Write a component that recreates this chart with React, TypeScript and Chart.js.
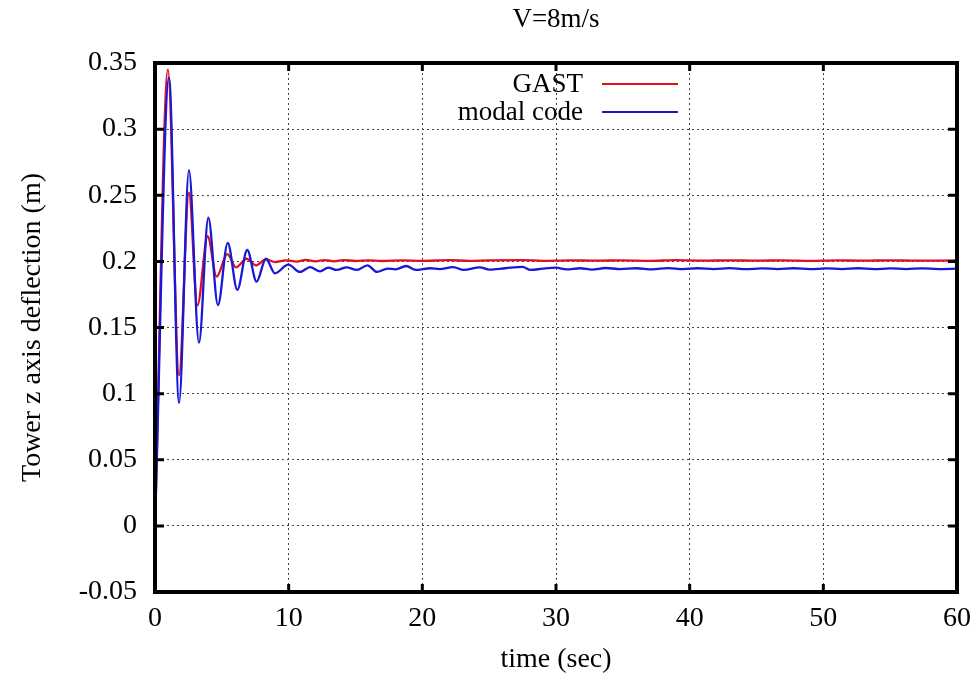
import React, { useEffect, useRef } from "react";
import { Chart, registerables } from "chart.js";

Chart.register(...registerables);

const chartTitle = "V=8m/s";
const xTitle = "time (sec)";
const yTitle = "Tower z axis deflection (m)";
const xTicks = [0, 10, 20, 30, 40, 50, 60];
const yTicks = [-0.05, 0, 0.05, 0.1, 0.15, 0.2, 0.25, 0.3, 0.35];

const gastLabel = "GAST";
const gastTime = [0, 0.97, 1.8, 2.54, 3.17, 3.94, 4.61, 5.41, 6.06, 6.86, 7.55, 8.3, 9.0, 9.8, 10.6, 11.3, 12.0, 12.7, 13.4, 14.1, 15.0, 16.0, 17.0, 18.5, 20, 22, 23.5, 25, 27.5, 29, 31, 33, 35, 37, 39, 41, 43, 45, 47, 49, 51, 53, 55, 57, 60];
const gastValue = [0, 0.345, 0.114, 0.252, 0.1667, 0.219, 0.1885, 0.2055, 0.1955, 0.202, 0.197, 0.2015, 0.1995, 0.2008, 0.1998, 0.2012, 0.2, 0.201, 0.2, 0.201, 0.2003, 0.2008, 0.2003, 0.2008, 0.2004, 0.2009, 0.2004, 0.2008, 0.201, 0.2004, 0.2008, 0.2005, 0.2008, 0.2004, 0.2009, 0.2005, 0.2008, 0.2005, 0.2008, 0.2004, 0.2008, 0.2005, 0.2008, 0.2005, 0.2007];

const modalLabel = "modal code";
const modalTime = [0, 1.05, 1.8, 2.54, 3.29, 3.99, 4.71, 5.44, 6.16, 6.9, 7.6, 8.3, 8.97, 9.97, 10.85, 11.6, 12.35, 12.96, 13.6, 14.33, 15.1, 15.9, 16.6, 17.4, 18.0, 18.8, 19.5, 20.6, 21.3, 22.3, 23.1, 24.3, 25.0, 26.2, 27.5, 28.1, 29.0, 30.0, 30.8, 31.8, 32.7, 33.7, 34.8, 36.0, 37.2, 38.4, 39.5, 40.6, 41.8, 43.0, 44.2, 45.4, 46.6, 47.8, 49.0, 50.2, 51.4, 52.6, 53.8, 55.0, 56.2, 57.4, 58.6, 60];
const modalValue = [0, 0.339, 0.093, 0.269, 0.1385, 0.233, 0.167, 0.214, 0.1785, 0.2086, 0.1847, 0.202, 0.191, 0.1975, 0.192, 0.1957, 0.1925, 0.1952, 0.1935, 0.1955, 0.1935, 0.197, 0.192, 0.1945, 0.194, 0.1965, 0.1935, 0.1948, 0.1942, 0.1957, 0.1935, 0.1955, 0.1938, 0.1948, 0.1958, 0.1935, 0.1945, 0.1952, 0.194, 0.1948, 0.1938, 0.195, 0.1942, 0.1948, 0.194, 0.1949, 0.1941, 0.1948, 0.1942, 0.1949, 0.1941, 0.1947, 0.1942, 0.1948, 0.1941, 0.1947, 0.1942, 0.1948, 0.1941, 0.1947, 0.1942, 0.1947, 0.1942, 0.1945];

const RED = "#e01020";
const BLUE = "#1818d8";
const FONT = "'Liberation Serif', 'Times New Roman', serif";

const decorPlugin = {
  id: "decor",
  afterDatasetsDraw(chart: any) {
    const { ctx, chartArea } = chart;
    const { left, right, top, bottom } = chartArea;
    const xs = chart.scales.x;
    const ys = chart.scales.y;
    ctx.save();
    // frame
    ctx.strokeStyle = "#000";
    ctx.lineWidth = 4;
    ctx.strokeRect(left, top, right - left, bottom - top);
    // inner tick marks
    ctx.lineWidth = 3;
    ctx.beginPath();
    xTicks.forEach((t) => {
      const px = xs.getPixelForValue(t);
      ctx.moveTo(px, bottom);
      ctx.lineTo(px, bottom - 8);
      ctx.moveTo(px, top);
      ctx.lineTo(px, top + 8);
    });
    yTicks.forEach((t) => {
      const py = ys.getPixelForValue(t);
      ctx.moveTo(left, py);
      ctx.lineTo(left + 9, py);
      ctx.moveTo(right, py);
      ctx.lineTo(right - 9, py);
    });
    ctx.stroke();

    // titles
    ctx.fillStyle = "#000";
    ctx.textAlign = "center";
    ctx.textBaseline = "middle";
    ctx.font = `27px ${FONT}`;
    ctx.fillText(chartTitle, (left + right) / 2, 12);
    ctx.font = `28px ${FONT}`;
    ctx.fillText(xTitle, (left + right) / 2, 652);
    ctx.save();
    ctx.translate(25, (top + bottom) / 2);
    ctx.rotate(-Math.PI / 2);
    ctx.fillText(yTitle, 0, 0);
    ctx.restore();

    // legend
    const entries = chart.data.datasets;
    ctx.font = `27px ${FONT}`;
    ctx.textAlign = "right";
    entries.forEach((ds: any, i: number) => {
      const y = 76 + i * 28;
      ctx.fillStyle = "#000";
      ctx.fillText(ds.label, 575, y + 1);
      ctx.strokeStyle = ds.borderColor;
      ctx.lineWidth = 2;
      ctx.beginPath();
      ctx.moveTo(594, y);
      ctx.lineTo(670, y);
      ctx.stroke();
    });
    ctx.restore();
  },
};

export default function App() {
  const ref = useRef<HTMLCanvasElement | null>(null);
  useEffect(() => {
    if (!ref.current) return;
    const gastData = gastTime.map((t, i) => ({ x: t, y: gastValue[i] }));
    const modalData = modalTime.map((t, i) => ({ x: t, y: modalValue[i] }));
    const chart = new Chart(ref.current, {
      type: "line",
      data: {
        datasets: [
          {
            label: gastLabel,
            data: gastData,
            borderColor: RED,
            borderWidth: 2.3,
            pointRadius: 0,
            cubicInterpolationMode: "monotone",
            order: 1,
          },
          {
            label: modalLabel,
            data: modalData,
            borderColor: BLUE,
            borderWidth: 2.3,
            pointRadius: 0,
            cubicInterpolationMode: "monotone",
            order: 0,
          },
        ],
      },
      options: {
        responsive: false,
        animation: false,
        layout: { padding: { top: 55, right: 14, left: 0, bottom: 0 } },
        plugins: {
          legend: { display: false },
          title: { display: false },
          tooltip: { enabled: false },
        },
        scales: {
          x: {
            type: "linear",
            min: 0,
            max: 60,
            afterBuildTicks: (s: any) => {
              s.ticks = xTicks.map((v) => ({ value: v }));
            },
            afterFit: (s: any) => {
              s.height = 82;
              s.paddingLeft = 0;
              s.paddingRight = 0;
            },
            ticks: {
              color: "#000",
              font: { family: FONT, size: 28 },
              padding: 10,
              maxRotation: 0,
              callback: (v: any) => String(v),
            },
            grid: {
              color: "#444",
              lineWidth: 1,
              drawTicks: false,
            },
            border: { display: true, color: "#000", width: 4, dash: [2, 3] },
          },
          y: {
            type: "linear",
            min: -0.05,
            max: 0.35,
            afterBuildTicks: (s: any) => {
              s.ticks = yTicks.map((v) => ({ value: v }));
            },
            afterFit: (s: any) => {
              s.width = 147;
              s.paddingTop = 0;
              s.paddingBottom = 0;
            },
            ticks: {
              color: "#000",
              font: { family: FONT, size: 28 },
              padding: 18,
              callback: (v: any) => String(Math.round(v * 100) / 100),
            },
            grid: {
              color: "#444",
              lineWidth: 1,
              drawTicks: false,
            },
            border: { display: true, color: "#000", width: 4, dash: [2, 3] },
          },
        },
      },
      plugins: [decorPlugin],
    } as any);
    return () => chart.destroy();
  }, []);
  return (
    <div style={{ width: 963, height: 666 }}>
      <canvas ref={ref} width={963} height={666} style={{ display: "block" }} />
    </div>
  );
}
